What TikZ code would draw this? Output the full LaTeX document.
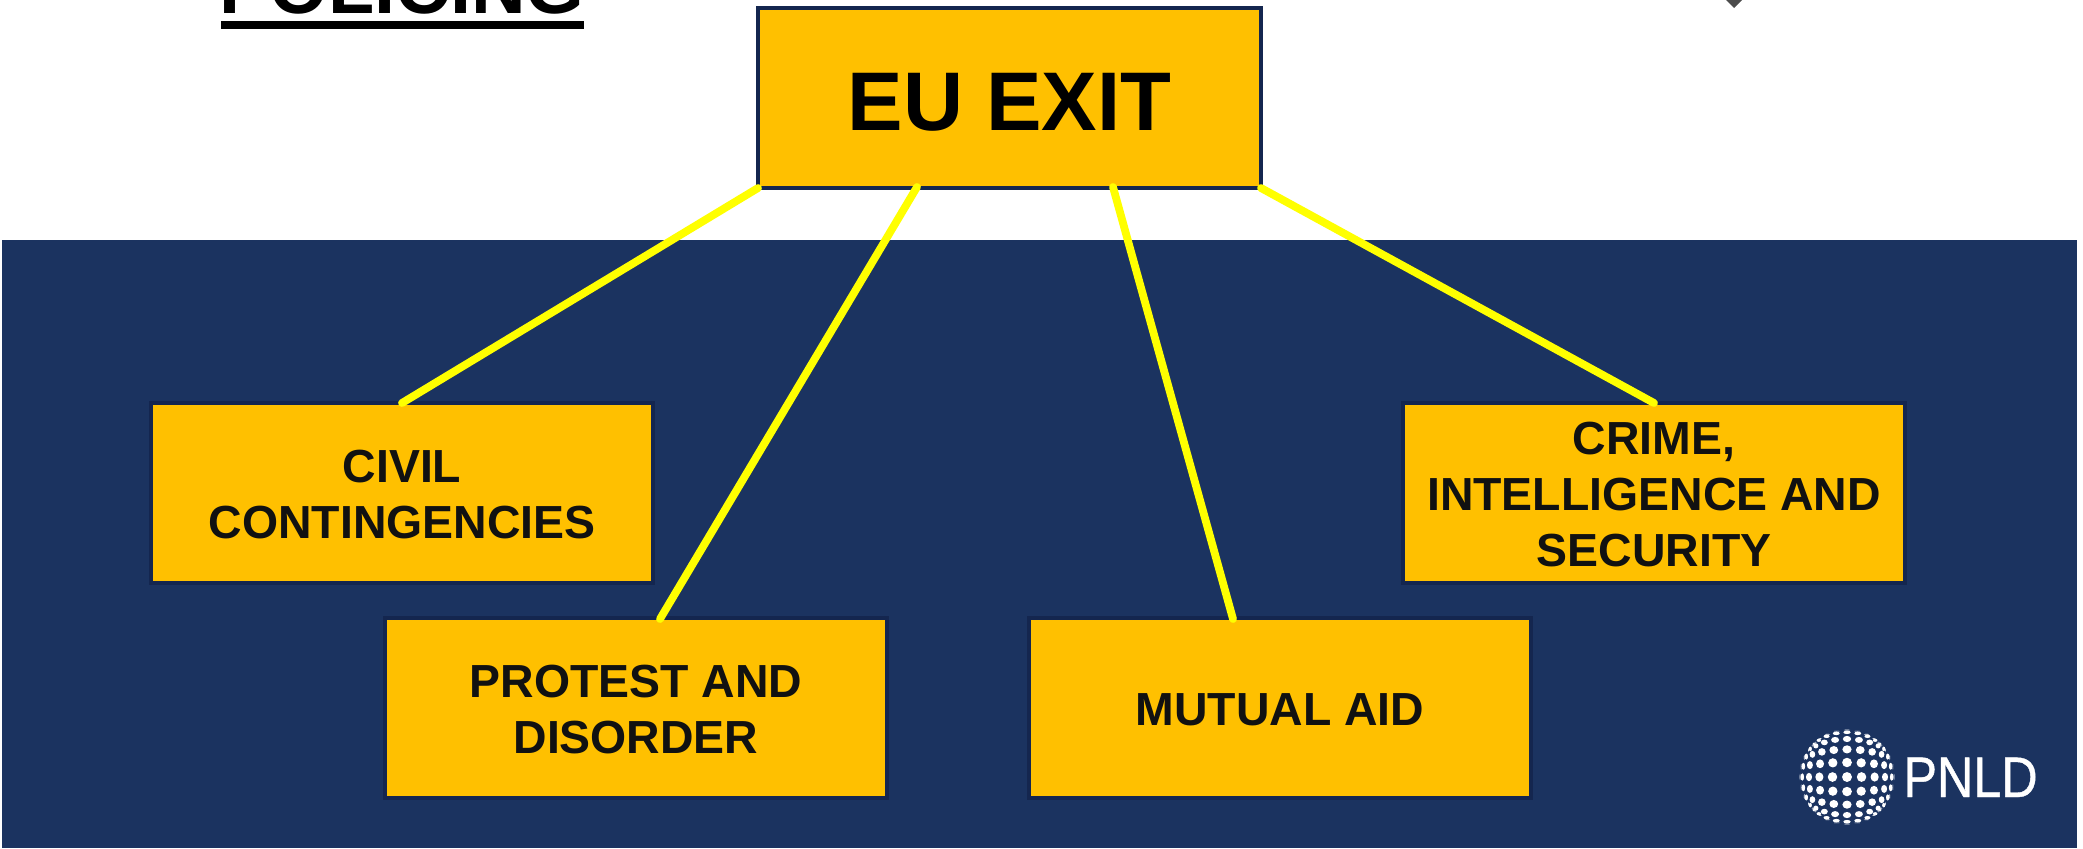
\documentclass[tikz,border=0pt]{standalone}
\usepackage{fontspec}
\setmainfont{Liberation Sans}
\newfontfamily\logofont[FakeStretch=0.88,FakeBold=0.7]{Liberation Sans}
\definecolor{navy}{HTML}{1B3360}
\definecolor{edgenavy}{HTML}{14264F}
\definecolor{amber}{HTML}{FFC000}
\definecolor{linkyellow}{HTML}{FFFF00}
\definecolor{inkdark}{HTML}{111111}
\newcommand{\smallstrut}{\rule{0pt}{18.2pt}}
\newcommand{\bigstrut}{\rule{0pt}{33pt}}
\tikzset{
  px/.style={x=0.5pt,y=-0.5pt},
  box/.style={draw=edgenavy,line width=2pt,fill=amber,minimum width=251pt,minimum height=90pt,inner sep=0pt,outer sep=0pt,align=center,
     text=inkdark,font=\fontsize{23.2}{28}\selectfont\bfseries},
  link/.style={draw=linkyellow,line width=3.9pt,line cap=round},
  dot/.style={fill=white,draw=none}
}
\begin{document}
\begin{tikzpicture}[px]
\useasboundingbox (0,0) rectangle (2083,848);
\begin{scope}
\clip (0,0) rectangle (2083,848);
\fill[white] (0,0) rectangle (2083,848);
\fill[navy] (2,240) rectangle (2077,848);
\node[anchor=base,inner sep=0pt,font=\fontsize{37.8}{40}\selectfont\bfseries,text=black] (title) at (402,13) {POLICING};
\fill[black] (221,21) rectangle (584,29);
\fill[black!70] (1726,0) -- (1742,0) -- (1734,8) -- cycle;
\end{scope}
\node[box,minimum width=251.5pt,font=\fontsize{41.6}{48}\selectfont\bfseries,text=black] (eu) at (1009.5,98) {\bigstrut EU EXIT};
\node[box] (civil) at (402,493) {\smallstrut CIVIL\\CONTINGENCIES};
\node[box] (protest) at (636,708) {\smallstrut PROTEST AND\\DISORDER};
\node[box] (mutual) at (1280,708) {\smallstrut MUTUAL AID};
\node[box] (crime) at (1654,493) {\smallstrut CRIME,\\INTELLIGENCE AND\\SECURITY};
\coordinate (euB) at (917,187);
\coordinate (euC) at (1113,187);
\coordinate (protestT) at (660,619);
\coordinate (mutualT) at (1233,619);
\draw[link] (eu.south west) -- (civil.north);
\draw[link] (euB) -- (protestT);
\draw[link] (euC) -- (mutualT);
\draw[link] (eu.south east) -- (crime.north);
% PNLD globe
\foreach \la in {-5,...,5}{
  \foreach \lo in {-5,...,5}{
    \pgfmathsetmacro{\uu}{sin(\lo*18)}
    \pgfmathsetmacro{\vv}{sin(\la*18)}
    \pgfmathsetmacro{\cx}{1847+47*\uu*sqrt(1-0.5*\vv*\vv)}
    \pgfmathsetmacro{\cy}{777-47*\vv*sqrt(1-0.5*\uu*\uu)}
    \pgfmathsetmacro{\rx}{0.35+4.6*cos(\lo*18)*(0.6+0.4*cos(\la*18))}
    \pgfmathsetmacro{\ry}{0.35+4.6*cos(\la*18)*(0.6+0.4*cos(\lo*18))}
    \fill[dot] (\cx,\cy) ellipse[x radius=\rx,y radius=\ry];
  }
}
\node[anchor=base west,inner sep=0pt,text=white,font=\logofont\fontsize{28.6}{32}\selectfont] (logo) at (1903,797) {PNLD};
\end{tikzpicture}
\end{document}
